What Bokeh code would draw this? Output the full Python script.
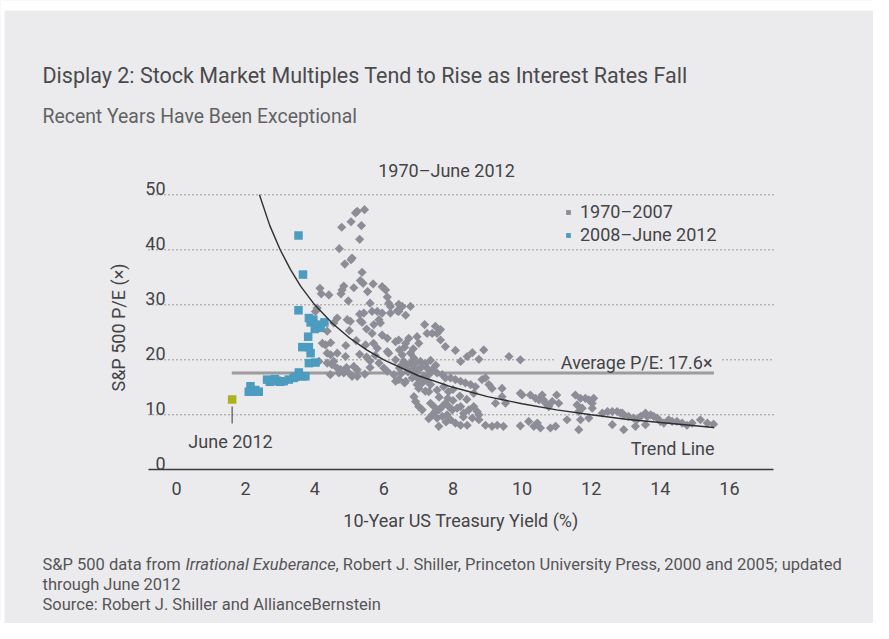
import numpy as np
from bokeh.plotting import figure
from bokeh.models import Range1d, FixedTicker, Label, Legend, LegendItem, LinearAxis
from bokeh.core.properties import value
from bokeh.embed import file_html
from bokeh.resources import INLINE

# ---------------- data ----------------
# 1970-2007 monthly points: (10-yr yield %, S&P 500 P/E)
G_X = [5.44, 5.23, 5.18, 5.05, 5.35, 4.78, 5.30, 4.71, 5.08, 5.05, 4.87, 5.37, 5.32, 5.40, 5.69, 4.84, 4.79, 4.76, 5.13, 5.53,
       5.95, 6.05, 4.15, 4.19, 4.41, 6.10, 4.97, 5.60, 6.14, 6.19, 6.43, 4.07, 4.02, 5.30, 5.42, 5.66, 5.81, 5.95, 6.19, 6.39,
       6.63, 5.86, 5.90, 5.32, 4.65, 4.55, 4.94,
       4.36, 4.22, 4.31, 4.46, 4.36, 4.46, 4.65, 4.89, 4.55, 4.36, 4.50, 4.65, 4.75, 4.84, 4.99, 5.13, 5.23, 5.23, 5.08, 5.03,
       5.37, 5.71, 5.66, 5.95, 6.10, 6.34, 5.47, 5.81, 6.10, 6.14, 5.86, 6.00, 6.10, 6.29, 6.34, 4.12, 4.45, 4.70, 4.92,
       6.53, 6.77, 6.43, 7.18, 7.49, 7.64, 7.40, 7.25, 7.54,
       6.43, 6.72, 6.96, 6.63, 7.01, 7.64, 7.78, 8.07, 8.56, 8.89, 8.41, 8.22, 8.75, 9.62, 9.95,
       6.53, 6.77, 6.87, 6.58, 6.77, 6.92, 7.06, 6.34, 6.63, 7.11, 7.25, 7.40, 7.54, 7.30, 7.69, 7.78, 7.93, 8.07, 8.22, 8.36,
       8.51, 8.65, 8.84, 8.94, 9.04, 9.13, 9.42,
       6.43, 6.63, 6.82, 6.96, 7.01, 7.11, 7.25, 7.35, 7.30, 7.54, 7.73, 7.87,
       9.42, 9.23, 9.52, 10.00,
       6.87, 6.92, 7.01, 7.11, 7.35, 7.45, 7.49, 7.59, 7.69, 7.78, 7.88, 7.98, 8.12, 8.22, 8.31, 8.46, 8.60, 8.75, 7.40, 7.54,
       7.69, 7.83, 7.93, 7.59, 8.07, 8.22, 8.41, 8.56, 8.75, 8.94, 9.13, 9.28, 9.46, 9.95,
       9.95, 10.24, 10.39, 10.49, 10.58, 10.62, 10.68, 10.77, 10.87, 11.00, 11.06, 11.54, 11.69, 11.83, 11.93, 12.07, 12.03,
       11.59, 11.74, 11.64, 12.03, 11.69, 11.93, 11.30, 10.19, 10.34, 10.44, 10.53, 10.82, 10.97, 11.64, 12.32, 12.47, 12.61,
       12.90, 12.61,
       12.75, 12.85, 12.94, 13.08, 13.23, 13.32, 13.43, 13.57, 13.62, 13.72, 13.81, 13.91, 14.00, 14.10, 14.24, 14.34, 14.48,
       14.63, 14.77, 14.92, 15.16, 15.36, 15.54, 12.94, 13.28, 13.57,
       6.50, 6.70, 6.90, 7.00, 6.45, 6.85, 7.15, 5.50, 5.60, 5.75,
       6.45, 6.60, 6.85, 6.50, 6.70, 6.95, 7.20, 7.35, 7.50, 7.00, 6.60, 7.20,
       7.60, 7.85, 8.00, 8.20, 8.40, 8.60, 8.00, 7.30, 7.80, 8.30, 8.70,
       5.00, 5.20, 4.90, 5.30, 5.50, 5.70, 5.60, 5.45]
G_Y = [47.3, 47.0, 46.7, 45.1, 44.4, 44.1, 41.9, 40.2, 38.5, 38.2, 37.4, 35.9, 34.4, 33.9, 33.8, 33.4, 32.7, 32.0, 33.1, 32.4,
       33.3, 32.7, 33.0, 32.0, 31.8, 31.4, 30.7, 30.3, 30.3, 29.7, 30.1, 29.4, 28.8, 28.3, 28.5, 28.8, 28.8, 28.5, 28.5, 28.9,
       28.1, 27.3, 26.7, 27.1, 27.6, 26.7, 27.3,
       25.2, 23.0, 22.7, 23.1, 21.2, 20.9, 21.2, 20.6, 19.7, 19.4, 19.1, 18.5, 18.2, 17.6, 17.6, 18.8, 18.2, 17.0, 17.0, 27.0,
       26.8, 26.4, 24.8, 24.5, 23.9, 23.3, 22.7, 22.1, 21.5, 21.2, 19.4, 18.5, 17.9, 17.3, 16.1, 19.7, 17.3, 17.6, 18.6,
       29.7, 29.7, 28.8, 26.4, 26.1, 25.5, 24.8, 24.8, 24.8,
       23.6, 23.9, 24.2, 23.0, 23.0, 23.6, 22.4, 21.7, 21.3, 21.8, 20.6, 19.7, 20.1, 20.6, 20.0,
       20.9, 21.2, 20.3, 19.7, 19.4, 19.4, 19.7, 20.0, 18.8, 18.8, 18.5, 18.2, 17.6, 17.3, 17.3, 16.7, 16.7, 16.4, 16.1, 15.8,
       15.5, 15.1, 16.4, 16.7, 15.5, 14.8, 14.8,
       16.4, 16.1, 16.7, 15.5, 14.8, 15.8, 16.1, 15.5, 14.2, 14.5, 15.1, 14.2,
       13.3, 12.1, 12.1, 13.6,
       13.3, 12.4, 11.5, 10.9, 12.1, 11.5, 10.6, 10.9, 11.5, 12.1, 11.5, 10.9, 11.2, 11.5, 10.3, 10.9, 11.5, 10.0, 10.0, 9.4,
       9.7, 10.0, 9.1, 7.9, 8.5, 8.1, 8.1, 9.4, 9.1, 8.1, 7.9, 8.1, 7.9, 8.0,
       13.9, 13.6, 13.0, 12.7, 13.6, 12.7, 12.1, 11.5, 12.4, 13.6, 12.1, 13.6, 13.0, 13.0, 12.7, 13.0, 12.1,
       11.8, 11.2, 10.6, 11.2, 9.1, 9.4, 9.1, 8.8, 7.9, 8.5, 7.6, 7.6, 7.9, 7.3, 10.3, 10.6, 10.6,
       10.3, 8.2,
       10.6, 10.3, 10.0, 9.7, 9.4, 9.1, 9.7, 10.3, 9.7, 10.0, 9.7, 9.4, 8.8, 8.5, 9.1, 8.8, 8.8,
       8.5, 8.1, 8.5, 9.1, 8.5, 8.3, 7.3, 7.9, 8.2,
       17.5, 17.8, 17.2, 18.2, 18.5, 18.4, 17.0, 20.5, 19.8, 20.8,
       21.8, 22.3, 22.0, 19.0, 18.0, 17.8, 19.3, 19.9, 19.0, 16.5, 15.8, 14.3,
       13.2, 13.0, 12.6, 13.4, 12.8, 13.9, 14.6, 9.3, 8.7, 9.6, 10.6,
       25.3, 23.5, 22.6, 21.0, 25.6, 23.0, 18.6, 17.4]

# 2008-June 2012 monthly points
B_X = [3.53, 3.66, 3.53, 3.83, 3.96, 3.88, 4.07, 4.17, 4.28, 4.00, 3.81, 3.64, 3.83, 3.88, 3.83, 4.02, 3.54, 3.64, 3.73,
       3.45, 3.39, 3.25, 3.10, 3.00, 2.91, 2.85, 2.77, 2.70, 2.62, 2.14, 2.09, 2.19, 2.38, 2.28]
B_Y = [42.6, 35.5, 29.0, 27.6, 27.3, 26.8, 26.4, 25.8, 26.8, 25.6, 24.2, 22.3, 22.3, 21.2, 19.4, 19.5, 17.7, 17.0, 17.0,
       16.9, 16.7, 16.4, 16.1, 16.0, 16.2, 16.5, 16.1, 16.0, 16.4, 15.2, 14.2, 14.2, 14.2, 14.5]

# June 2012
J_X = [1.61]
J_Y = [12.8]

# trend line
T_X = [2.4, 2.7, 3.0, 3.3, 3.6, 4.0, 4.5, 5.0, 5.5, 6.0, 7.0, 8.0, 9.0, 10.0, 11.0, 12.0, 13.0, 14.0, 15.55]
T_Y = [50.0, 44.4, 40.0, 36.4, 33.3, 30.0, 26.7, 24.0, 21.8, 20.0, 17.1, 15.0, 13.3, 12.0, 10.9, 10.0, 9.2, 8.6, 7.7]

AVG_PE = 17.6
AVG_X = [1.6, 15.55]

X_TICKS = [0, 2, 4, 6, 8, 10, 12, 14, 16]
Y_TICKS = [0, 10, 20, 30, 40, 50]

# ---------------- style ----------------
FONT = "Roboto"
BG = "#ebebed"
TXT = "#444446"
NOTE = "#555557"
GRAY = "#8d8d97"
BLUE = "#4b9cbf"
GREEN = "#a9b41c"

W, H = 873, 623

# pixel <-> data mapping of the chart area (x: 34.56 px per unit, y: 5.5 px per unit)
X0_PX, XS = 176.0, 34.56
Y0_PX, YS = 469.3, 5.5


def dx(px):
    return (px - X0_PX) / XS


def dy(py):
    return (Y0_PX - py) / YS


PLOT_L, PLOT_R = dx(148), dx(773)

p = figure(width=W, height=H, output_backend="svg", toolbar_location=None,
           x_range=Range1d(dx(0), dx(W)), y_range=Range1d(dy(H), dy(0)),
           x_axis_location=None, y_axis_location=None,
           min_border=0, min_border_left=0, min_border_right=0, min_border_top=0, min_border_bottom=0,
           background_fill_color=BG, border_fill_color=BG, outline_line_color=None)
p.grid.visible = False

# white page strips like the original
p.quad(left=[dx(0)], right=[dx(W)], top=[dy(0)], bottom=[dy(10)], fill_color="white", line_color=None)
p.quad(left=[dx(0)], right=[dx(4)], top=[dy(0)], bottom=[dy(H)], fill_color="white", line_color=None)

# x axis at y = 0
xaxis = LinearAxis(fixed_location=0, bounds=(PLOT_L, PLOT_R))
xaxis.ticker = FixedTicker(ticks=X_TICKS)
xaxis.major_tick_line_color = None
xaxis.minor_tick_line_color = None
xaxis.major_tick_out = 0
xaxis.major_tick_in = 0
xaxis.axis_line_color = "#3a3a3c"
xaxis.axis_line_width = 1.5
xaxis.major_label_text_font = FONT
xaxis.major_label_text_font_size = "18px"
xaxis.major_label_text_color = TXT
xaxis.major_label_standoff = 12
xaxis.axis_label = "10-Year US Treasury Yield (%)"
xaxis.axis_label_text_font = FONT
xaxis.axis_label_text_font_size = "18px"
xaxis.axis_label_text_font_style = "normal"
xaxis.axis_label_text_color = TXT
xaxis.axis_label_standoff = 12
p.add_layout(xaxis, "below")

# dotted horizontal gridlines (the 20 line is interrupted by the average label)
GRID_Y = Y_TICKS[1:]
gx0, gx1, gy = [], [], []
for t in GRID_Y:
    if t == 20:
        gx0 += [PLOT_L, dx(722)]
        gx1 += [dx(555), PLOT_R]
        gy += [t, t]
    else:
        gx0.append(PLOT_L)
        gx1.append(PLOT_R)
        gy.append(t)
p.segment(x0=gx0, y0=gy, x1=gx1, y1=gy, line_color="#4a4a4a", line_dash="1 3", line_width=1)

# y tick labels sit just above their gridlines, as in the original
p.text(x=[dx(165)] * len(Y_TICKS), y=[t + 1.2 for t in Y_TICKS], text=[str(t) for t in Y_TICKS],
       text_align="right", text_baseline="alphabetic", text_font=value(FONT),
       text_font_size="18px", text_color=TXT)
p.text(x=[dx(118)], y=[dy(327)], text=["S&P 500 P/E (×)"], angle=np.pi / 2,
       text_align="center", text_baseline="middle", text_font=value(FONT),
       text_font_size="18px", text_color=TXT)

# average line
p.line(AVG_X, [AVG_PE, AVG_PE], line_color="#9c9c9e", line_width=3)

# scatter
g_r = p.scatter(G_X, G_Y, marker="square", angle=np.pi / 4, size=6.5, fill_color=GRAY, line_color=None)
b_r = p.scatter(B_X, B_Y, marker="square", size=8.5, fill_color=BLUE, line_color=None)
p.scatter(J_X, J_Y, marker="square", size=8.5, fill_color=GREEN, line_color=None)
p.segment(x0=J_X, y0=[dy(423)], x1=J_X, y1=[dy(406)], line_color="#555", line_width=1.2)

# trend line
p.line(T_X, T_Y, line_color="#2e2e30", line_width=1.4)

# annotations in the plot
p.add_layout(Label(x=dx(712), y=dy(362), text="Average P/E: 17.6×", text_align="right", text_baseline="alphabetic",
                   text_font=FONT, text_font_size="18px", text_color=TXT))
p.add_layout(Label(x=dx(714), y=dy(448), text="Trend Line", text_align="right", text_baseline="alphabetic",
                   text_font=FONT, text_font_size="18px", text_color=TXT))
p.add_layout(Label(x=dx(230), y=dy(441), text="June 2012", text_align="center", text_baseline="alphabetic",
                   text_font=FONT, text_font_size="18px", text_color=TXT))

legend = Legend(items=[LegendItem(label="1970–2007", renderers=[g_r]),
                       LegendItem(label="2008–June 2012", renderers=[b_r])],
                location=(562, H - 245), background_fill_alpha=0, border_line_color=None,
                padding=0, margin=0, spacing=2, glyph_width=12, glyph_height=12, label_standoff=6,
                label_height=20, label_text_font=FONT, label_text_font_size="18px", label_text_color=TXT)
p.add_layout(legend)


def text_label(x_px, y_px, text, size, color=TXT, align="left", style="normal"):
    p.add_layout(Label(x=dx(x_px), y=dy(y_px), text=text, text_align=align, text_baseline="alphabetic",
                       text_font=FONT, text_font_size=size, text_color=color, text_font_style=style))


text_label(42, 75, "Display 2: Stock Market Multiples Tend to Rise as Interest Rates Fall", "21.5px", "#4a4a4c")
text_label(42, 116, "Recent Years Have Been Exceptional", "19.4px", "#626264")
text_label(446, 170, "1970–June 2012", "18px", TXT, align="center")
text_label(42, 564, "S&P 500 data from", "16.5px", NOTE)
text_label(185, 564, "Irrational Exuberance", "16.5px", NOTE, style="italic")
text_label(335, 564, ", Robert J. Shiller, Princeton University Press, 2000 and 2005; updated", "16.5px", NOTE)
text_label(42, 584, "through June 2012", "16.5px", NOTE)
text_label(42, 604, "Source: Robert J. Shiller and AllianceBernstein", "16.5px", NOTE)

open("out.html", "w").write(file_html(p, INLINE))
